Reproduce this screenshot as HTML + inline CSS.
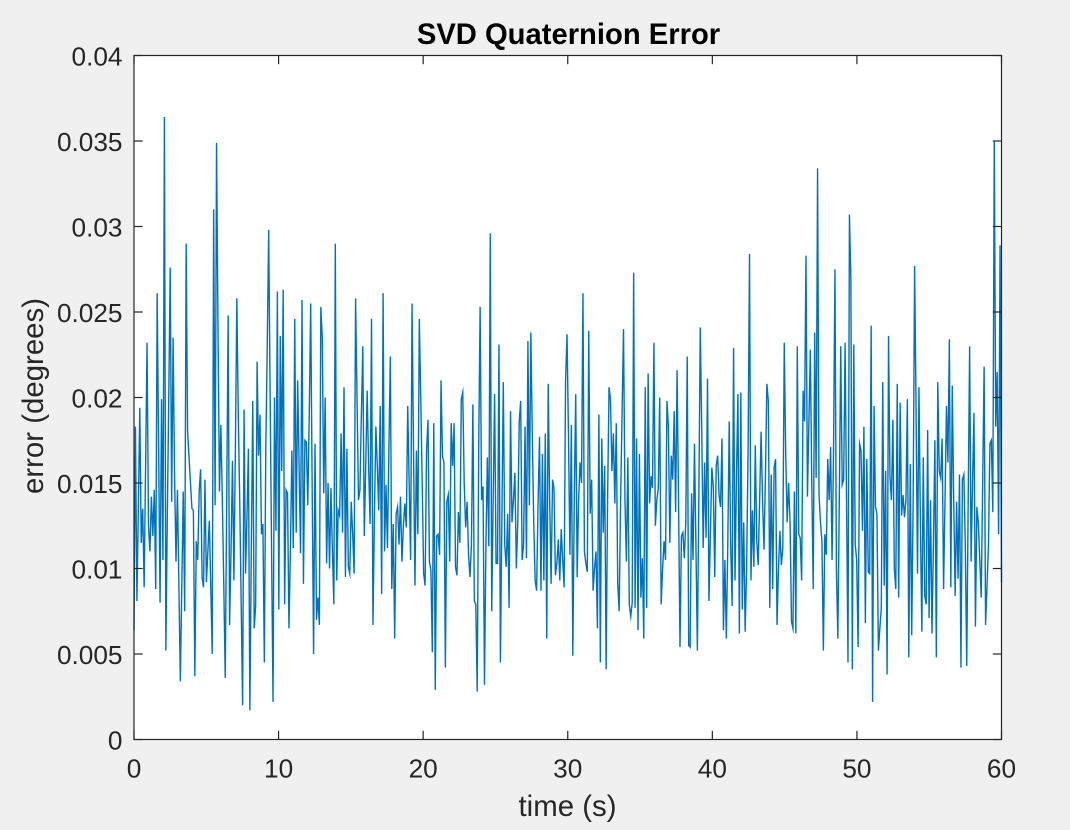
<!DOCTYPE html>
<html lang="en">
<head>
<meta charset="utf-8">
<title>SVD Quaternion Error</title>
<style>
html,body{margin:0;padding:0;width:1070px;height:830px;background:#f0f0f0;overflow:hidden}
svg{display:block;font-family:"Liberation Sans",Arial,sans-serif}
</style>
</head>
<body>
<svg id="chart" width="1070" height="830" viewBox="0 0 1070 830" xmlns="http://www.w3.org/2000/svg">
  <rect x="0" y="0" width="1070" height="830" fill="#f0f0f0"/>
  <rect x="134" y="55.5" width="867.5" height="684" fill="#ffffff"/>
  <polyline id="series" fill="none" stroke="#0072BD" stroke-width="1.4" stroke-linejoin="miter" stroke-miterlimit="10"/>
  <g id="axes"></g>
  <rect x="134" y="55.5" width="867.5" height="684" fill="none" stroke="#262626" stroke-width="1.2"/>
  <text x="568.5" y="44" text-anchor="middle" font-size="29.2" font-weight="bold" fill="#000000">SVD Quaternion Error</text>
  <text x="567.5" y="816" text-anchor="middle" font-size="29.4" fill="#262626">time (s)</text>
  <text transform="translate(43 396) rotate(-90)" text-anchor="middle" font-size="29.4" fill="#262626">error (degrees)</text>
</svg>
<script>
const xTicks = [0, 10, 20, 30, 40, 50, 60];
const xTickLabels = ["0", "10", "20", "30", "40", "50", "60"];
const yTicks = [0, 0.005, 0.01, 0.015, 0.02, 0.025, 0.03, 0.035, 0.04];
const yTickLabels = ["0", "0.005", "0.01", "0.015", "0.02", "0.025", "0.03", "0.035", "0.04"];
const duration = 60;
const errorDegrees = [
0.0064,0.0183,0.0081,0.0135,0.0194,0.0115,0.0135,0.0089,0.016,0.0232,0.0125,0.011,0.0142,0.0119,0.0146,0.0088,0.0261,0.017,0.008,0.0199,0.0105,0.0364,0.0052,0.013,0.02,0.0276,0.0139,0.0235,0.0155,0.0104,0.0146,0.009,0.0034,0.009,0.0145,0.0075,0.029,0.018,0.0165,0.015,0.0135,0.0134,0.0037,0.0116,0.0105,0.0145,0.0158,0.0095,0.0089,0.0152,0.0092,0.011,0.0128,0.009,0.005,0.031,0.0137,0.0349,0.024,0.0145,0.0184,0.014,0.009,0.0036,0.014,0.0248,0.0067,0.011,0.0163,0.0093,0.017,0.0258,0.019,0.014,0.008,0.002,0.0193,0.0097,0.013,0.017,0.0017,0.011,0.0198,0.0065,0.0078,0.0221,0.0166,0.019,0.012,0.0126,0.0045,0.017,0.023,0.0298,0.02,0.011,0.0022,0.02,0.0122,0.0262,0.0076,0.0236,0.0157,0.0263,0.0079,0.0146,0.0144,0.0065,0.011,0.0169,0.0112,0.0246,0.0121,0.021,0.016,0.0109,0.0257,0.0091,0.0175,0.0174,0.0137,0.019,0.0255,0.015,0.005,0.0173,0.007,0.0083,0.0067,0.0253,0.0235,0.0144,0.02,0.0103,0.015,0.01,0.0147,0.011,0.0079,0.029,0.0093,0.0134,0.0131,0.0179,0.0121,0.0206,0.0095,0.017,0.0101,0.0097,0.0139,0.012,0.0097,0.0258,0.02,0.014,0.0146,0.019,0.023,0.0119,0.016,0.0204,0.016,0.0126,0.0246,0.0067,0.013,0.0183,0.016,0.0134,0.0195,0.0085,0.0261,0.011,0.0149,0.0112,0.017,0.0224,0.0088,0.0126,0.0059,0.0132,0.0136,0.0114,0.0142,0.0104,0.0125,0.0138,0.0124,0.0195,0.015,0.0105,0.0255,0.017,0.009,0.0169,0.012,0.0246,
0.02,0.015,0.0097,0.009,0.0169,0.0187,0.0104,0.0099,0.0051,0.0185,0.0029,0.0119,0.012,0.0108,0.021,0.0166,0.0162,0.0042,0.0139,0.0143,0.0104,0.0185,0.016,0.0185,0.0101,0.0096,0.0133,0.0115,0.0199,0.0203,0.015,0.0124,0.0139,0.0108,0.0095,0.0114,0.0196,0.0081,0.0079,0.0028,0.017,0.0253,0.014,0.0148,0.0032,0.0114,0.0165,0.0113,0.0296,0.0075,0.014,0.0202,0.0103,0.0103,0.0231,0.0045,0.0127,0.0209,0.0114,0.0101,0.0132,0.0077,0.0192,0.0127,0.014,0.0156,0.01,0.0127,0.0186,0.0198,0.0105,0.0114,0.0183,0.0106,0.0233,0.0137,0.0238,0.018,0.0127,0.0093,0.0087,0.0138,0.0177,0.0087,0.0167,0.0093,0.0179,0.0059,0.0208,0.014,0.0091,0.0152,0.0147,0.0096,0.0103,0.0117,0.0093,0.0123,0.0105,0.0089,0.021,0.0237,0.0178,0.0108,0.0184,0.0049,0.014,0.0202,0.0095,0.014,0.0162,0.015,0.0261,0.011,0.0103,0.0098,0.0239,0.0132,0.0152,0.0087,0.01,0.011,0.0065,0.019,0.0045,0.0176,0.0121,0.016,0.0041,0.014,0.0206,0.0199,0.0157,0.0179,0.0138,0.0185,0.0092,0.0075,0.014,0.019,0.024,0.014,0.0104,0.0165,0.0079,0.0072,0.008,0.0273,0.0077,0.0176,0.0064,0.0167,0.0083,0.0106,0.0059,0.0206,0.0077,0.0214,0.0138,0.0154,0.0147,0.0232,0.0125,0.014,0.0147,0.02,0.0079,0.01,0.0116,0.0105,0.0198,0.0183,0.0115,0.0166,0.0152,0.0192,0.0133,0.0216,0.014,0.0054,0.0119,0.0121,0.0106,0.0127,0.0224,0.0055,0.0054,0.0144,0.0105,0.0173,0.0114,0.0052,0.014,0.0241,0.0183,0.0112,0.0162,0.0118,0.0211,0.0081,
0.012,0.0159,0.0148,0.0095,0.016,0.0166,0.0143,0.0136,0.0176,0.0064,0.0105,0.0059,0.0114,0.0186,0.0114,0.0078,0.0229,0.0093,0.0154,0.0202,0.0062,0.0203,0.0076,0.0127,0.0063,0.01,0.0167,0.0284,0.0093,0.0134,0.0101,0.0172,0.0116,0.0102,0.014,0.018,0.014,0.0111,0.0154,0.0208,0.0198,0.0077,0.0155,0.0088,0.0159,0.0164,0.0067,0.01,0.0122,0.0102,0.0112,0.0232,0.0167,0.0127,0.015,0.0127,0.0069,0.0065,0.0145,0.0062,0.023,0.012,0.0118,0.0093,0.0204,0.0186,0.0283,0.0142,0.0185,0.0228,0.015,0.0088,0.0238,0.0153,0.0334,0.0143,0.0127,0.0116,0.0052,0.012,0.0108,0.0164,0.014,0.0171,0.0105,0.0167,0.0275,0.01,0.0059,0.014,0.023,0.0149,0.0152,0.0232,0.014,0.0045,0.0307,0.0269,0.0041,0.0231,0.0114,0.0105,0.0054,0.0173,0.0169,0.0122,0.0183,0.0068,0.0164,0.0098,0.0097,0.0242,0.0022,0.0195,0.0136,0.0132,0.0052,0.0065,0.0077,0.0209,0.009,0.0157,0.0038,0.0236,0.0154,0.014,0.0187,0.01,0.0088,0.0208,0.0083,0.0197,0.0131,0.0143,0.013,0.014,0.0199,0.0048,0.0161,0.0061,0.014,0.0277,0.0194,0.0097,0.0206,0.0127,0.0063,0.0165,0.0084,0.0079,0.0181,0.0071,0.014,0.0062,0.0114,0.0175,0.0048,0.0209,0.0157,0.0153,0.0176,0.0088,0.014,0.0195,0.0162,0.0234,0.0089,0.0207,0.014,0.0084,0.0139,0.0094,0.0155,0.0042,0.0152,0.0155,0.0114,0.0043,0.014,0.023,0.0104,0.015,0.0191,0.0066,0.0136,0.0127,0.0105,0.0083,0.015,0.0218,0.0067,0.009,0.0114,0.0173,0.0175,0.0133,0.035,0.0183,0.0215,0.012,0.0289,0.0092
];

const plotLeft = 134, plotRight = 1001.5, plotTop = 55.5, plotBottom = 739.5;
const tickLength = 8.7;
const tickColor = "#262626";
const svgNS = "http://www.w3.org/2000/svg";

function xScale(t) { return plotLeft + (t / 60) * (plotRight - plotLeft); }
function yScale(v) { return plotBottom - (v / 0.04) * (plotBottom - plotTop); }

const axesGroup = document.getElementById("axes");

function addTick(x1, y1, x2, y2, name) {
  const tick = document.createElementNS(svgNS, "line");
  tick.setAttribute("x1", x1);
  tick.setAttribute("y1", y1);
  tick.setAttribute("x2", x2);
  tick.setAttribute("y2", y2);
  tick.setAttribute("stroke", tickColor);
  tick.setAttribute("stroke-width", "1.2");
  
  
  axesGroup.appendChild(tick);
}

function addLabel(x, y, anchor, content, name) {
  const label = document.createElementNS(svgNS, "text");
  label.setAttribute("x", x);
  label.setAttribute("y", y);
  label.setAttribute("text-anchor", anchor);
  label.setAttribute("font-size", "26.2");
  label.setAttribute("fill", tickColor);
  label.textContent = content;
  
  
  axesGroup.appendChild(label);
}

xTicks.forEach(function (t, i) {
  const x = xScale(t);
  addTick(x, plotBottom, x, plotBottom - tickLength, "x-tick-bottom");
  addTick(x, plotTop, x, plotTop + tickLength, "x-tick-top");
  addLabel(x, 777.5, "middle", xTickLabels[i], "x-tick-label");
});

yTicks.forEach(function (v, i) {
  const y = yScale(v);
  addTick(plotLeft, y, plotLeft + tickLength, y, "y-tick-left");
  addTick(plotRight, y, plotRight - tickLength, y, "y-tick-right");
  addLabel(122.5, y + 10, "end", yTickLabels[i], "y-tick-label");
});

const lastIndex = errorDegrees.length - 1;
const points = errorDegrees.map(function (v, i) {
  const t = (i / lastIndex) * duration;
  return xScale(t).toFixed(2) + "," + yScale(v).toFixed(2);
});
document.getElementById("series").setAttribute("points", points.join(" "));
</script>
</body>
</html>
